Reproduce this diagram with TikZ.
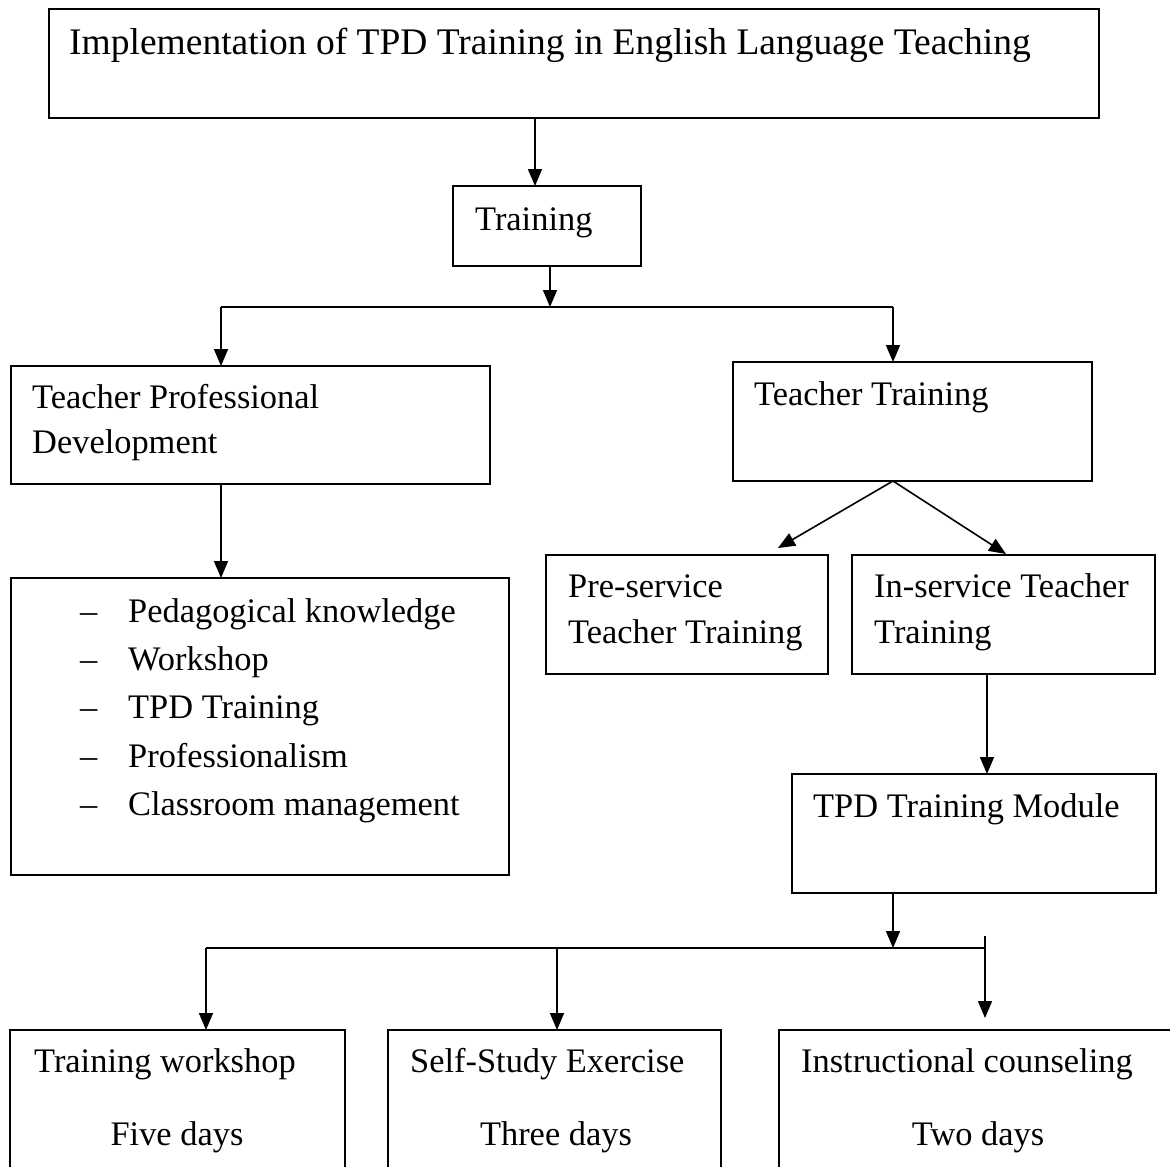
\documentclass[tikz,border=0pt]{standalone}
\usepackage{fontspec}
\setmainfont{Liberation Serif}
\usetikzlibrary{arrows.meta,calc}
\begin{document}
\begin{tikzpicture}[x=1pt,y=-1pt,
  box/.style={draw, line width=1.6pt, inner sep=0pt, outer sep=0pt, anchor=north west},
  lbl/.style={inner sep=0pt, anchor=base west, font=\fontsize{34.4}{40}\selectfont},
  lblc/.style={lbl, anchor=base},
  conn/.style={line width=1.6pt},
  arr/.style={conn, -{Triangle[length=17pt,width=14pt]}}]
\useasboundingbox (0,0) rectangle (1170,1167);
\clip (0,0) rectangle (1170,1167);
% boxes
\node[box, minimum width=1050pt, minimum height=109pt] (top) at (49,9) {};
\node[box, minimum width=188pt, minimum height=80pt] (train) at (453,186) {};
\node[box, minimum width=479pt, minimum height=118pt] (tpd) at (11,366) {};
\node[box, minimum width=359pt, minimum height=119pt] (tt) at (733,362) {};
\node[box, minimum width=498pt, minimum height=297pt] (list) at (11,578) {};
\node[box, minimum width=282pt, minimum height=119pt] (pre) at (546,555) {};
\node[box, minimum width=303pt, minimum height=119pt] (ins) at (852,555) {};
\node[box, minimum width=364pt, minimum height=119pt] (mod) at (792,774) {};
\node[box, minimum width=335pt, minimum height=170pt] (b1) at (10,1030) {};
\node[box, minimum width=333pt, minimum height=170pt] (b2) at (388,1030) {};
\node[box, minimum width=401pt, minimum height=170pt] (b3) at (779,1030) {};
% texts
\node[lbl, font=\fontsize{37.5}{44}\selectfont] (ttop) at (69,54) {Implementation of TPD Training in English Language Teaching};
\node[lbl] (ttrain) at (475,230) {Training};
\node[lbl] (ttpd1) at (32,408) {Teacher Professional};
\node[lbl] (ttpd2) at (32,453) {Development};
\node[lbl] (ttt) at (754,405) {Teacher Training};
\foreach \yy/\tx [count=\i] in {622/Pedagogical knowledge,670/Workshop,718/TPD Training,767/Professionalism,815/Classroom management}{
  \node[lbl] (d\i) at (80,\yy) {–};
  \node[lbl] (l\i) at (128,\yy) {\tx};
}
\node[lbl] (tpre1) at (568,597) {Pre-service};
\node[lbl] (tpre2) at (568,643) {Teacher Training};
\node[lbl] (tins1) at (874,597) {In-service Teacher};
\node[lbl] (tins2) at (874,643) {Training};
\node[lbl] (tmod) at (813,817) {TPD Training Module};
\node[lbl] (tb1) at (34,1072) {Training workshop};
\node[lblc] (tb1d) at (177,1145) {Five days};
\node[lbl] (tb2) at (410,1072) {Self-Study Exercise};
\node[lblc] (tb2d) at (556,1145) {Three days};
\node[lbl] (tb3) at (801,1072) {Instructional counseling};
\node[lblc] (tb3d) at (978,1145) {Two days};
% junction coordinates
\coordinate (c1) at (535,0);
\coordinate (j1) at (550,307);
\coordinate (jL) at (221,307);
\coordinate (jR) at (893,307);
\coordinate (pe) at (778,548);
\coordinate (ie) at (1006,554);
\coordinate (k) at (987,0);
\coordinate (jb) at (893,948);
\coordinate (bL) at (206,948);
\coordinate (bM) at (557,948);
\coordinate (bR) at (985,948);
\coordinate (bRt) at (985,936);
\coordinate (bRe) at (985,1018);
% connectors
\draw[arr] (top.south -| c1) -- (train.north -| c1);
\draw[arr] (train.south -| j1) -- (j1);
\draw[conn] (jL) -- (jR);
\draw[arr] (jL) -- (tpd.north -| jL);
\draw[arr] (jR) -- (tt.north -| jR);
\draw[arr] (tpd.south -| jL) -- (list.north -| jL);
\draw[arr] (tt.south -| jR) -- (pe);
\draw[arr] (tt.south -| jR) -- (ie);
\draw[arr] (ins.south -| k) -- (mod.north -| k);
\draw[arr] (mod.south -| jb) -- (jb);
\draw[conn] (bL) -- (bR);
\draw[conn] (bRt) -- (bR);
\draw[arr] (bL) -- (b1.north -| bL);
\draw[arr] (bM) -- (b2.north -| bM);
\draw[arr] (bR) -- (bRe);
\end{tikzpicture}
\end{document}
